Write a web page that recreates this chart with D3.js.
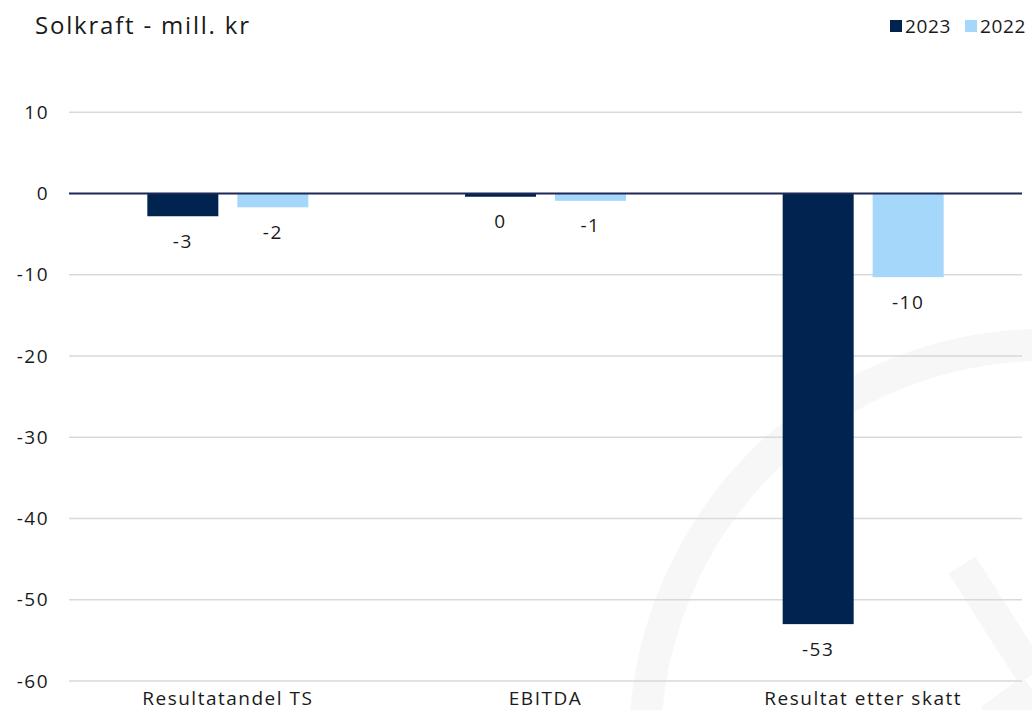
<!DOCTYPE html>
<html><head><meta charset="utf-8">
<script src="https://cdn.jsdelivr.net/npm/d3@7"></script>
<style>body{margin:0;background:#fff}svg{display:block;font-family:"Open Sans",sans-serif;letter-spacing:1.5px}</style>
</head><body>
<svg id="c" width="1032" height="710"></svg>
<script>
const categories = ["Resultatandel TS", "EBITDA", "Resultat etter skatt"];
const seriesNames = ["2023", "2022"];
const values2023 = [-2.8, -0.4, -53.0];
const values2022 = [-1.7, -0.9, -10.3];
const labels2023 = ["-3", "0", "-53"];
const labels2022 = ["-2", "-1", "-10"];
const yTicks = [10, 0, -10, -20, -30, -40, -50, -60];
const colors = {"2023": "#00244f", "2022": "#a5d7fb"};

const svg = d3.select("#c");
const left = 69, right = 1022;
const fs = 19;
const y = d3.scaleLinear().domain([-60, 10]).range([681, 112.25]);
const x = d3.scaleBand().domain(categories).range([left, right]);
const xs = d3.scaleBand().domain(seriesNames).range([0, 161]).paddingInner(0.211);

// watermark
const wm = svg.append("g").attr("fill", "none").attr("stroke", "#f7f7f7").attr("stroke-width", 32);
wm.append("circle").attr("cx", 1045).attr("cy", 745).attr("r", 400);
wm.append("polyline").attr("points", "962,565 1032,675");
wm.append("polyline").attr("points", "1032,690 990,720");

// gridlines
svg.append("g").selectAll("line").data(yTicks.filter(d => d !== 0)).join("line")
  .attr("x1", left).attr("x2", right).attr("y1", d => y(d)).attr("y2", d => y(d))
  .attr("stroke", "#d9d9d9").attr("stroke-width", 1.5);

// y tick labels
svg.append("g").selectAll("text").data(yTicks).join("text")
  .attr("x", 49).attr("y", d => y(d)).attr("dy", "0.35em")
  .attr("text-anchor", "end").attr("font-size", fs).attr("fill", "#1a1a1a")
  .text(d => d);

// bars
const data = categories.map((c, i) => ({c, vals: [
  {s: "2023", v: values2023[i], l: labels2023[i]},
  {s: "2022", v: values2022[i], l: labels2022[i]}]}));
const g = svg.append("g").selectAll("g").data(data).join("g")
  .attr("transform", d => `translate(${x(d.c) + (x.bandwidth() - 161) / 2},0)`);
g.selectAll("rect").data(d => d.vals).join("rect")
  .attr("x", d => xs(d.s)).attr("width", xs.bandwidth())
  .attr("y", d => Math.min(y(0), y(d.v))).attr("height", d => Math.abs(y(d.v) - y(0)))
  .attr("fill", d => colors[d.s]);
g.selectAll("text").data(d => d.vals).join("text")
  .attr("x", d => xs(d.s) + xs.bandwidth() / 2).attr("y", d => y(d.v) + 25).attr("dy", "0.35em")
  .attr("text-anchor", "middle").attr("font-size", fs).attr("fill", "#1a1a1a")
  .text(d => d.l);

// zero line
svg.append("line").attr("x1", left).attr("x2", right).attr("y1", y(0)).attr("y2", y(0))
  .attr("stroke", "#1c2856").attr("stroke-width", 2);

// category labels
svg.append("g").selectAll("text").data(categories).join("text")
  .attr("x", d => x(d) + x.bandwidth() / 2).attr("y", 698).attr("dy", "0.35em")
  .attr("text-anchor", "middle").attr("font-size", fs).attr("fill", "#1a1a1a")
  .text(d => d);

// title
svg.append("text").attr("x", 35).attr("y", 34).attr("font-size", 24).attr("fill", "#1a1a1a")
  .style("letter-spacing", "1.8px").text("Solkraft - mill. kr");

// legend
const lg = svg.append("g").attr("transform", "translate(890,26)");
const li = lg.selectAll("g").data(seriesNames).join("g").attr("transform", (d, i) => `translate(${i * 75},0)`);
li.append("rect").attr("x", 0).attr("y", -6).attr("width", 12).attr("height", 12).attr("fill", d => colors[d]);
li.append("text").attr("x", 15).attr("y", 0).attr("dy", "0.35em").attr("font-size", fs).attr("fill", "#1a1a1a")
  .style("letter-spacing", "0.6px").text(d => d);
</script>
</body></html>
